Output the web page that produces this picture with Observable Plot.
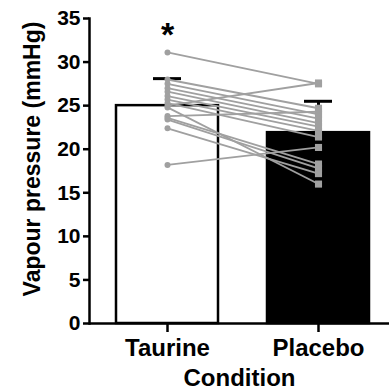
<!DOCTYPE html>
<html><head><meta charset="utf-8">
<script src="https://cdn.jsdelivr.net/npm/d3@7"></script>
<script src="https://cdn.jsdelivr.net/npm/@observablehq/plot@0.6"></script>
<style>body{margin:0;background:#fff} svg{display:block}</style>
</head><body><div id="chart"></div>
<script>
const conditions = ["Taurine", "Placebo"];
const means = [25.0, 21.9];
const sds = [3.1, 3.6];
const barFills = ["white", "black"];
const taurineValues = [31.1, 28.0, 27.5, 27.0, 26.6, 26.1, 25.7, 25.3, 25.0, 24.8, 23.8, 23.6, 23.4, 22.4, 18.2];
const placeboValues = [27.5, 24.7, 24.0, 23.5, 23.0, 22.6, 22.1, 21.4, 27.6, 16.0, 24.3, 18.3, 17.8, 17.2, 20.2];
const yTicks = [0, 5, 10, 15, 20, 25, 30, 35];
const yLabel = "Vapour pressure (mmHg)";
const xLabel = "Condition";
const sigMark = "*";

const bars = conditions.map((c, i) => ({condition: c, mean: means[i], top: means[i] + sds[i], fill: barFills[i]}));
const pairs = taurineValues.map((t, i) => ({t, p: placeboValues[i]}));
const gray = "#a0a0a0";
const font = "'Liberation Sans', Arial, sans-serif";

const chart = Plot.plot({
  width: 389, height: 391,
  marginLeft: 89, marginRight: 0, marginTop: 18, marginBottom: 68,
  style: {fontFamily: font, background: "white", color: "black"},
  x: {domain: conditions, paddingInner: 0.325, paddingOuter: 0.152, align: 0.565},
  y: {domain: [0, 35]},
  marks: [
    Plot.barY(bars, {x: "condition", y: "mean", fill: "fill", stroke: "black", strokeWidth: 2.5}),
    Plot.ruleX(bars, {x: "condition", y1: "mean", y2: "top", stroke: "black", strokeWidth: 3}),
    Plot.tickY(bars, {x: "condition", y: "top", stroke: "black", strokeWidth: 3, insetLeft: 37, insetRight: 37}),
    Plot.link(pairs, {x1: () => conditions[0], y1: "t", x2: () => conditions[1], y2: "p", stroke: gray, strokeWidth: 1.8}),
    Plot.dot(pairs, {x: () => conditions[0], y: "t", r: 3, fill: gray}),
    Plot.dot(pairs, {x: () => conditions[1], y: "p", symbol: "square", r: 4, fill: gray}),
    Plot.ruleY([0], {stroke: "black", strokeWidth: 2.5}),
    Plot.frame({anchor: "left", stroke: "black", strokeWidth: 2.5}),
    Plot.axisY({ticks: yTicks, tickSize: 6, tickPadding: 3, fontSize: 21, fontWeight: "bold", strokeWidth: 2.5, label: null}),
    Plot.axisX({tickSize: 9, tickPadding: 6, fontSize: 24, fontWeight: "bold", strokeWidth: 2.5, label: null}),
    Plot.text([yLabel], {text: d => d, frameAnchor: "left", textAnchor: "middle", lineAnchor: "middle", rotate: -90, dx: -57, dy: -12, fontSize: 23, fontWeight: "bold", fill: "black"}),
    Plot.text([xLabel], {text: d => d, frameAnchor: "bottom", lineAnchor: "bottom", dy: 62, fontSize: 24, fontWeight: "bold", fill: "black"}),
    Plot.text([sigMark], {x: () => conditions[0], text: d => d, frameAnchor: "top", lineAnchor: "bottom", dy: 27, fontSize: 34, fontWeight: "bold", fill: "black"})
  ]
});
document.getElementById("chart").appendChild(chart);
</script>
</body></html>
